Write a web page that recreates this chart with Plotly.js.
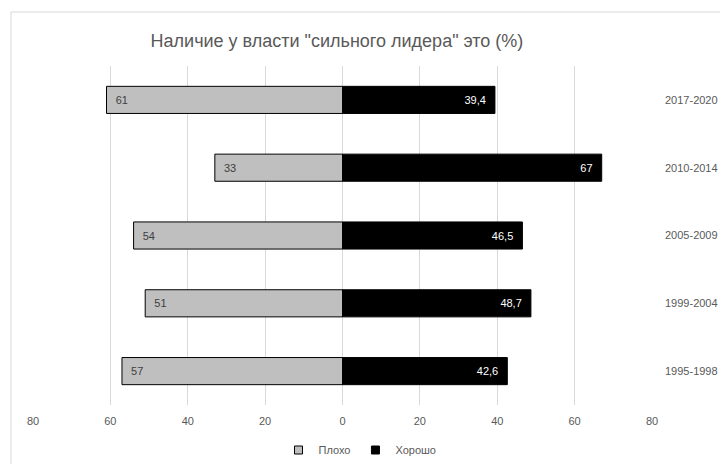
<!DOCTYPE html>
<html>
<head>
<meta charset="utf-8">
<script src="https://cdn.plot.ly/plotly-3.0.1.min.js"></script>
<style>html,body{margin:0;padding:0;background:#fff;overflow:hidden}</style>
</head>
<body>
<div id="chart" style="width:720px;height:464px"></div>
<script>
const periods = ["2017-2020", "2010-2014", "2005-2009", "1999-2004", "1995-1998"];
const badValues = [61, 33, 54, 51, 57];
const goodValues = [39.4, 67, 46.5, 48.7, 42.6];
const tickValues = [-80, -60, -40, -20, 0, 20, 40, 60, 80];
const tickLabels = ["80", "60", "40", "20", "0", "20", "40", "60", "80"];
const seriesNames = ["Плохо", "Хорошо"];

const fmt = v => String(v).replace('.', ',');
const PAD = '\u00a0\u00a0';
const FONT = '"Liberation Sans Narrow", "Liberation Sans", Arial, sans-serif';
const GRAY = '#bfbfbf';

const traces = [
  {
    type: 'bar', orientation: 'h', name: seriesNames[0], showlegend: false,
    y: periods, x: badValues.map(v => -v),
    text: badValues.map(v => PAD + fmt(v)), textposition: 'inside', insidetextanchor: 'end',
    textfont: {color: '#404040', size: 11, family: FONT},
    constraintext: 'none',
    marker: {color: GRAY, line: {color: '#000000', width: 1}},
    hoverinfo: 'skip'
  },
  {
    type: 'bar', orientation: 'h', name: seriesNames[1], showlegend: false,
    y: periods, x: goodValues,
    text: goodValues.map(v => fmt(v) + PAD), textposition: 'inside', insidetextanchor: 'end',
    textfont: {color: '#ffffff', size: 11, family: FONT},
    constraintext: 'none',
    marker: {color: '#000000', line: {color: '#000000', width: 1}},
    hoverinfo: 'skip'
  },
  {
    type: 'scatter', mode: 'markers', name: seriesNames[0], x: [null], y: [null],
    marker: {symbol: 'square', size: 8, color: GRAY, line: {color: '#000000', width: 1}},
    hoverinfo: 'skip'
  },
  {
    type: 'scatter', mode: 'markers', name: seriesNames[1], x: [null], y: [null],
    marker: {symbol: 'square', size: 8, color: '#000000', line: {color: '#000000', width: 1}},
    hoverinfo: 'skip'
  }
];

const plotL = 33, plotR = 652, plotT = 66, plotB = 405, W = 720, H = 464;
const pw = plotR - plotL, ph = plotB - plotT;

const layout = {
  width: W, height: H,
  margin: {l: plotL, r: W - plotR, t: plotT, b: H - plotB, pad: 0},
  paper_bgcolor: '#ffffff', plot_bgcolor: '#ffffff',
  barmode: 'relative', bargap: 0.6,
  font: {family: FONT, color: '#595959', size: 11},
  title: {
    text: 'Наличие у власти "сильного лидера" это (%)',
    font: {family: FONT, size: 18, color: '#595959'},
    x: 337 / W, xanchor: 'center', y: 1 - 41 / H, yanchor: 'middle'
  },
  xaxis: {
    range: [-80, 80], tickvals: tickValues, ticktext: tickLabels,
    showgrid: true, gridcolor: '#d9d9d9', gridwidth: 1,
    zeroline: false, showline: false, ticks: '',
    tickfont: {size: 11, color: '#595959', family: FONT},
    ticklabelstandoff: 8, fixedrange: true
  },
  yaxis: {
    type: 'category',
    side: 'right', autorange: 'reversed', showgrid: false, zeroline: false,
    showline: false, ticks: '',
    tickfont: {size: 11, color: '#595959', family: FONT},
    ticklabelstandoff: 12, fixedrange: true
  },
  showlegend: true,
  legend: {
    orientation: 'h', x: 0.5, xref: 'container', xanchor: 'center',
    y: 1 - 450 / H, yref: 'container', yanchor: 'middle',
    font: {size: 11, color: '#595959', family: FONT},
    itemwidth: 30, traceorder: 'normal', bgcolor: 'rgba(0,0,0,0)'
  },
  shapes: [{
    type: 'rect', xref: 'paper', yref: 'paper',
    x0: (11 - plotL) / pw, x1: (W + 20 - plotL) / pw,
    y0: -(H + 20 - plotB) / ph, y1: 1 + (plotT - 12) / ph,
    line: {color: '#d9d9d9', width: 1}, fillcolor: 'rgba(0,0,0,0)', layer: 'below'
  }]
};

Plotly.newPlot('chart', traces, layout, {displayModeBar: false, staticPlot: true});
</script>
</body>
</html>
